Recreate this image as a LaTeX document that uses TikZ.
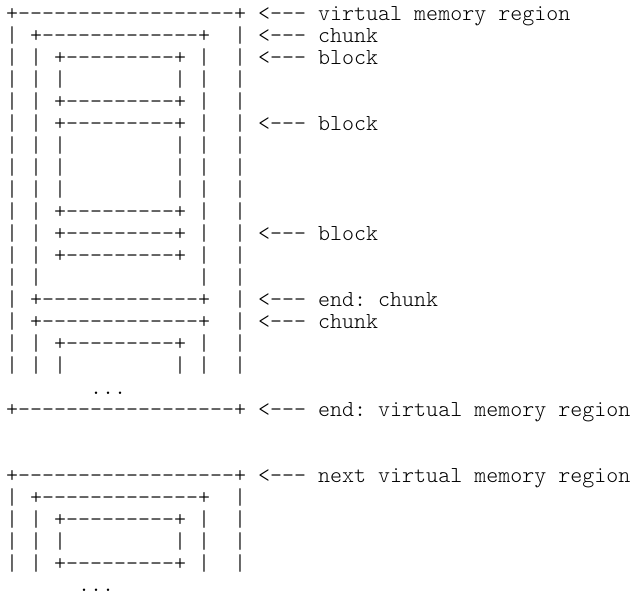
\documentclass[tikz,border=0pt]{standalone}
\usepackage{fontspec}
\setmonofont{lmmonolt10-regular.otf}
\usepackage{tikz}

\begin{document}
\begin{tikzpicture}[x=1pt,y=-1pt,
	txtline/.style={anchor=base west,inner sep=0pt,font=\ttfamily\fontsize{22.86pt}{22pt}\selectfont}]
	
	\useasboundingbox (0,0) rectangle (633,595);
	
	% first region
	\node[txtline] (r1) at (6,20) {+------------------+~<---~virtual~memory~region};
	\node[txtline] (r2) at (6,42) {|~+-------------+~~|~<---~chunk};
	\node[txtline] (r3) at (6,64) {|~|~+---------+~|~~|~<---~block};
	\node[txtline] (r4) at (6,86) {|~|~|~~~~~~~~~|~|~~|};
	\node[txtline] (r5) at (6,108) {|~|~+---------+~|~~|};
	\node[txtline] (r6) at (6,130) {|~|~+---------+~|~~|~<---~block};
	\node[txtline] (r7) at (6,152) {|~|~|~~~~~~~~~|~|~~|};
	\node[txtline] (r8) at (6,174) {|~|~|~~~~~~~~~|~|~~|};
	\node[txtline] (r9) at (6,196) {|~|~|~~~~~~~~~|~|~~|};
	\node[txtline] (r10) at (6,218) {|~|~+---------+~|~~|};
	\node[txtline] (r11) at (6,240) {|~|~+---------+~|~~|~<---~block};
	\node[txtline] (r12) at (6,262) {|~|~+---------+~|~~|};
	\node[txtline] (r13) at (6,284) {|~|~~~~~~~~~~~~~|~~|};
	\node[txtline] (r14) at (6,306) {|~+-------------+~~|~<---~end:~chunk};
	\node[txtline] (r15) at (6,328) {|~+-------------+~~|~<---~chunk};
	\node[txtline] (r16) at (6,350) {|~|~+---------+~|~~|};
	\node[txtline] (r17) at (6,372) {|~|~|~~~~~~~~~|~|~~|};
	\node[txtline] (r18) at (6,394) {~~~~~~~...};
	\node[txtline] (r19) at (6,416) {+------------------+~<---~end:~virtual~memory~region};
	
	% next region
	\node[txtline] (r22) at (6,482) {+------------------+~<---~next~virtual~memory~region};
	\node[txtline] (r23) at (6,504) {|~+-------------+~~|};
	\node[txtline] (r24) at (6,526) {|~|~+---------+~|~~|};
	\node[txtline] (r25) at (6,548) {|~|~|~~~~~~~~~|~|~~|};
	\node[txtline] (r26) at (6,570) {|~|~+---------+~|~~|};
	\node[txtline] (r27) at (6,591) {~~~~~~...};
	
\end{tikzpicture}
\end{document}
